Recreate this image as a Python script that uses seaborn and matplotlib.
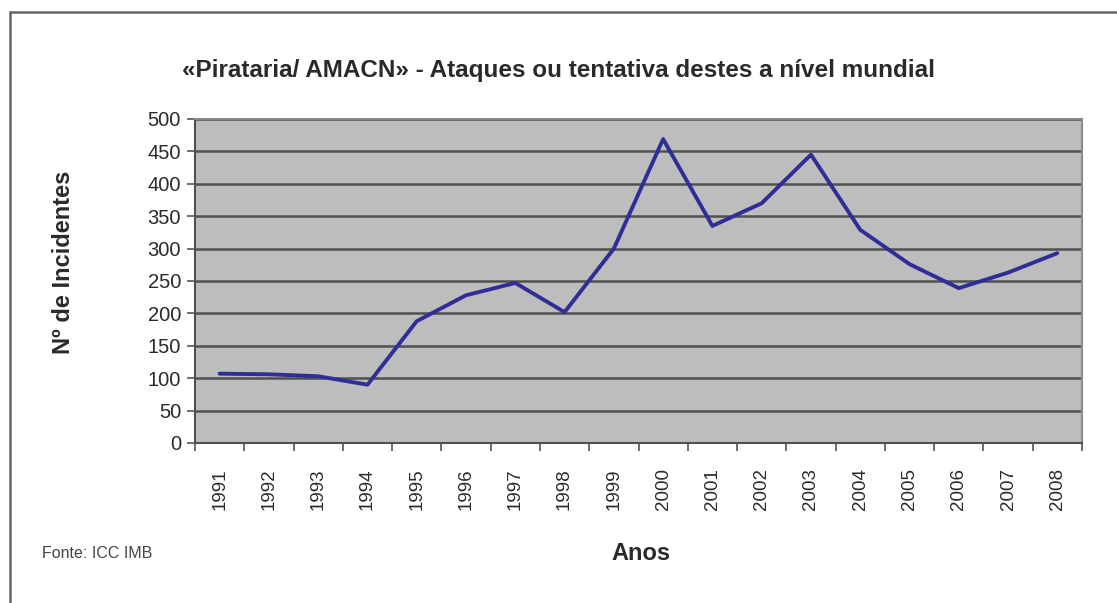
import matplotlib.pyplot as plt
import matplotlib.patches as mpatches
import seaborn as sns
import pandas as pd
import numpy as np

# Data
years = ["1991", "1992", "1993", "1994", "1995", "1996", "1997", "1998", "1999",
         "2000", "2001", "2002", "2003", "2004", "2005", "2006", "2007", "2008"]
incidents = [107, 106, 103, 90, 188, 228, 247, 202, 300,
             469, 335, 370, 445, 329, 276, 239, 263, 293]
y_ticks = [0, 50, 100, 150, 200, 250, 300, 350, 400, 450, 500]

df = pd.DataFrame({"Ano": years, "Incidentes": incidents})

sns.set_theme(style="white")
plt.rcParams["font.family"] = ["Liberation Sans", "DejaVu Sans"]

fig = plt.figure(figsize=(11.17, 6.03), dpi=100)
ax = fig.add_axes([195 / 1117, 1 - 443 / 603, (1082 - 195) / 1117, (443 - 119) / 603])

# outer frame like the original picture
fig.patches.append(mpatches.Rectangle((10 / 1117, -0.05), 1.2, 1 - 12 / 603 + 0.05,
                                      transform=fig.transFigure, fill=False,
                                      edgecolor="#666666", linewidth=1.8))

ax.set_facecolor("#bdbdbd")
for yv in y_ticks[1:]:
    ax.axhline(yv, color="#505050", linewidth=1.8, zorder=1)

sns.lineplot(data=df, x="Ano", y="Incidentes", ax=ax, color="#2e2e96",
             linewidth=2.8, zorder=3, sort=False)

ax.set_xlim(-0.5, len(years) - 0.5)
ax.set_ylim(0, 500)
ax.set_yticks(y_ticks)
ax.set_yticklabels([str(v) for v in y_ticks], fontsize=14.5, color="#2a2a2a")
ax.set_xticks(range(len(years)))
ax.set_xticklabels(years, rotation=90, fontsize=13.5, color="#2a2a2a")
ax.set_xticks(np.arange(-0.5, len(years)), minor=True)
ax.tick_params(axis="x", which="major", length=0, pad=18)
ax.tick_params(axis="x", which="minor", length=6, width=1.2, color="#555555", bottom=True)
ax.tick_params(axis="y", length=6, width=1.2, color="#555555", left=True, pad=4)

for side in ["top", "right"]:
    ax.spines[side].set_color("#8a8a8a")
    ax.spines[side].set_linewidth(1.5)
for side in ["left", "bottom"]:
    ax.spines[side].set_color("#505050")
    ax.spines[side].set_linewidth(1.5)

ax.set_xlabel("")
ax.set_ylabel("")
fig.text(64 / 1117, 1 - 262 / 603, "Nº de Incidentes", rotation=90, fontsize=17,
         fontweight="bold", ha="center", va="center", color="#2a2a2a")
fig.text(641 / 1117, 1 - 553 / 603, "Anos", fontsize=17, fontweight="bold",
         ha="center", va="center", color="#2a2a2a")
fig.text(42 / 1117, 1 - 553 / 603, "Fonte: ICC IMB", fontsize=11.5,
         ha="left", va="center", color="#444444")
fig.text(559 / 1117, 1 - 71 / 603,
         "«Pirataria/ AMACN» - Ataques ou tentativa destes a nível mundial",
         fontsize=17.5, fontweight="bold", ha="center", va="center", color="#2a2a2a")

fig.savefig("out.png", dpi=100, facecolor="white")
